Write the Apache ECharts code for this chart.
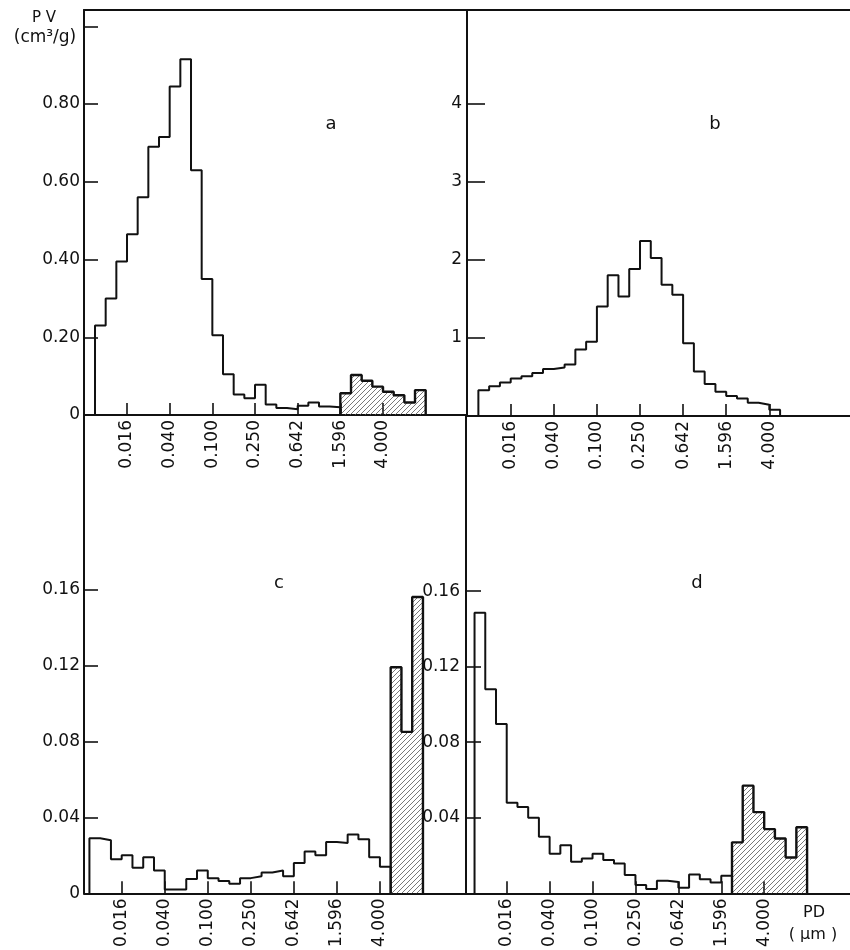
<!DOCTYPE html>
<html><head><meta charset="utf-8">
<script src="https://cdn.jsdelivr.net/npm/echarts@6/dist/echarts.min.js"></script>
<style>html,body{margin:0;padding:0;background:#fff}#c{width:850px;height:950px}</style>
</head><body><div id="c"></div>
<script>
// ---- data ----
// x positions are in "tick units": 0 = 0.016 µm, 1 = 0.040, ... (log scale, factor 2.5 per tick)
const tickLabels = ['0.016', '0.040', '0.100', '0.250', '0.642', '1.596', '4.000'];
const tickPositions = [0, 1, 2, 3, 4, 5, 6];
const firstBinEdge = -0.75;
const binWidth = 0.25;

// panel a: PV (cm3/g)
const aOpen = [0.23, 0.30, 0.395, 0.465, 0.56, 0.69, 0.715, 0.845, 0.915, 0.63, 0.35, 0.205,
  0.105, 0.053, 0.043, 0.078, 0.027, 0.018, 0.015, 0.024, 0.032, 0.022, 0.02];
const aHatched = [0.056, 0.103, 0.088, 0.073, 0.06, 0.051, 0.032, 0.064];
// panel b
const bOpen = [0.33, 0.38, 0.43, 0.48, 0.51, 0.55, 0.60, 0.62, 0.66, 0.85, 0.95, 1.40, 1.80, 1.53,
  1.88, 2.24, 2.02, 1.68, 1.55, 0.93, 0.57, 0.41, 0.31, 0.255, 0.225, 0.17, 0.145, 0.08];
// panel c
const cOpen = [0.029, 0.028, 0.018, 0.020, 0.0135, 0.019, 0.012, 0.002, 0.002, 0.0075, 0.012, 0.008,
  0.0065, 0.005, 0.008, 0.009, 0.011, 0.012, 0.009, 0.016, 0.022, 0.020, 0.027, 0.0265, 0.031,
  0.0285, 0.019, 0.014];
const cHatched = [0.119, 0.085, 0.156];
// panel d
const dOpen = [0.1486, 0.108, 0.0897, 0.048, 0.0457, 0.040, 0.030, 0.021, 0.0255, 0.0167, 0.0185,
  0.021, 0.0176, 0.0158, 0.0097, 0.0044, 0.0023, 0.0067, 0.006, 0.003, 0.010, 0.0075, 0.0058, 0.0093];
const dHatched = [0.027, 0.057, 0.043, 0.034, 0.029, 0.019, 0.035];

const yTicksA = [0.2, 0.4, 0.6, 0.8, 1.0];
const yLabelsA = [0, 0.2, 0.4, 0.6, 0.8];
const yTicksB = [1, 2, 3, 4];
const yLabelsB = [1, 2, 3, 4];
const yTicksC = [0.04, 0.08, 0.12, 0.16];
const yLabelsC = [0, 0.04, 0.08, 0.12, 0.16];
const yTicksD = [0.04, 0.08, 0.12, 0.16];
const yLabelsD = [0.04, 0.08, 0.12, 0.16];

// ---- helpers ----
function steps(values, startIndex) {
  const x0 = firstBinEdge + startIndex * binWidth;
  const pts = [[x0, 0]];
  values.forEach((v, i) => {
    const l = x0 + i * binWidth;
    pts.push([l, v]);
    pts.push([l + binWidth, v]);
  });
  pts.push([x0 + values.length * binWidth, 0]);
  return pts;
}
function hatchCanvas() {
  const s = 5;
  const c = document.createElement('canvas');
  c.width = s; c.height = s;
  const g = c.getContext('2d');
  g.strokeStyle = '#555';
  g.lineWidth = 0.8;
  g.beginPath();
  g.moveTo(0, s); g.lineTo(s, 0);
  g.moveTo(-1, 1); g.lineTo(1, -1);
  g.moveTo(s - 1, s + 1); g.lineTo(s + 1, s - 1);
  g.stroke();
  return c;
}
const hatch = { image: hatchCanvas(), repeat: 'repeat' };
const FONT = 'DejaVu Sans';
const INK = '#111';
const FS = 17;

// layout (pixels) and axis extents per panel
const panels = [
  { grid: { left: 84, top: 10, width: 382, height: 405 }, xMin: -1.008, xMax: 7.945, yMax: 1.042,
    yTicks: yTicksA, yLabels: yLabelsA, tickLen: 14, labMargin: 4 },
  { grid: { left: 467, top: 10, width: 383, height: 406 }, xMin: -1.014, xMax: 7.872, yMax: 5.194,
    yTicks: yTicksB, yLabels: yLabelsB, tickLen: 18, labMargin: 5 },
  { grid: { left: 84, top: 415, width: 382, height: 480 }, xMin: -0.876, xMax: 8.0, yMax: 0.2518,
    yTicks: yTicksC, yLabels: yLabelsC, tickLen: 14, labMargin: 4 },
  { grid: { left: 466, top: 416, width: 384, height: 479 }, xMin: -0.949, xMax: 8.0, yMax: 0.2527,
    yTicks: yTicksD, yLabels: yLabelsD, tickLen: 15, labMargin: 6 }
];

const grids = panels.map(p => p.grid);
const xAxes = panels.map((p, i) => ({
  type: 'value', gridIndex: i, min: p.xMin, max: p.xMax, position: 'bottom',
  axisLine: { show: true, onZero: false, lineStyle: { color: INK, width: 2 } },
  axisTick: { show: true, inside: true, length: 12, customValues: tickPositions,
    lineStyle: { color: INK, width: 1.6 } },
  axisLabel: { show: true, rotate: 90, margin: 5, customValues: tickPositions,
    fontFamily: FONT, fontSize: FS, color: INK,
    formatter: v => { const k = Math.round(v); return tickLabels[k] !== undefined ? tickLabels[k] : ''; } },
  splitLine: { show: false }
}));
// top frame lines for the upper panels
[0, 1].forEach(i => {
  xAxes.push({
    type: 'value', gridIndex: i, min: panels[i].xMin, max: panels[i].xMax, position: 'top',
    axisLine: { show: true, onZero: false, lineStyle: { color: INK, width: 2 } },
    axisTick: { show: false }, axisLabel: { show: false }, splitLine: { show: false }
  });
});
const yAxes = panels.map((p, i) => ({
  type: 'value', gridIndex: i, min: 0, max: p.yMax,
  axisLine: { show: true, onZero: false, lineStyle: { color: INK, width: 2 } },
  axisTick: { show: true, inside: true, length: p.tickLen, customValues: p.yTicks,
    lineStyle: { color: INK, width: 1.6 } },
  axisLabel: { show: true, margin: p.labMargin, customValues: p.yLabels,
    fontFamily: FONT, fontSize: FS, color: INK,
    formatter: v => (v === 0 ? '0' : (i === 1 ? String(v) : v.toFixed(2))) },
  splitLine: { show: false }
}));

function openSeries(i, values, start) {
  return { type: 'line', xAxisIndex: i, yAxisIndex: i, data: steps(values, start),
    showSymbol: false, symbol: 'none', animation: false, z: 3,
    lineStyle: { color: INK, width: 2 } };
}
function hatchedSeries(i, values, start) {
  return { type: 'line', xAxisIndex: i, yAxisIndex: i, data: steps(values, start),
    showSymbol: false, symbol: 'none', animation: false, z: 4,
    lineStyle: { color: INK, width: 2.4 }, areaStyle: { color: hatch, opacity: 1 } };
}

const series = [
  openSeries(0, aOpen, 0), hatchedSeries(0, aHatched, aOpen.length),
  openSeries(1, bOpen, 0),
  openSeries(2, cOpen, 0), hatchedSeries(2, cHatched, cOpen.length),
  openSeries(3, dOpen, 0), hatchedSeries(3, dHatched, dOpen.length)
];

function txt(x, y, s, size) {
  return { type: 'text', x: x, y: y, silent: true,
    style: { text: s, fill: INK, font: size + 'px "' + FONT + '"', textAlign: 'center', textVerticalAlign: 'middle' } };
}

const chart = echarts.init(document.getElementById('c'), null, { renderer: 'canvas' });
chart.setOption({
  backgroundColor: '#fff',
  animation: false,
  grid: grids,
  xAxis: xAxes,
  yAxis: yAxes,
  series: series,
  graphic: [
    txt(331, 124, 'a', 18), txt(715, 124, 'b', 18),
    txt(279, 583, 'c', 18), txt(697, 583, 'd', 18),
    txt(44, 18, 'P V', 15), txt(45, 38, '(cm³/g)', 17),
    txt(814, 913, 'PD', 16), txt(813, 935, '( μm )', 16)
  ]
});
</script>
</body></html>
